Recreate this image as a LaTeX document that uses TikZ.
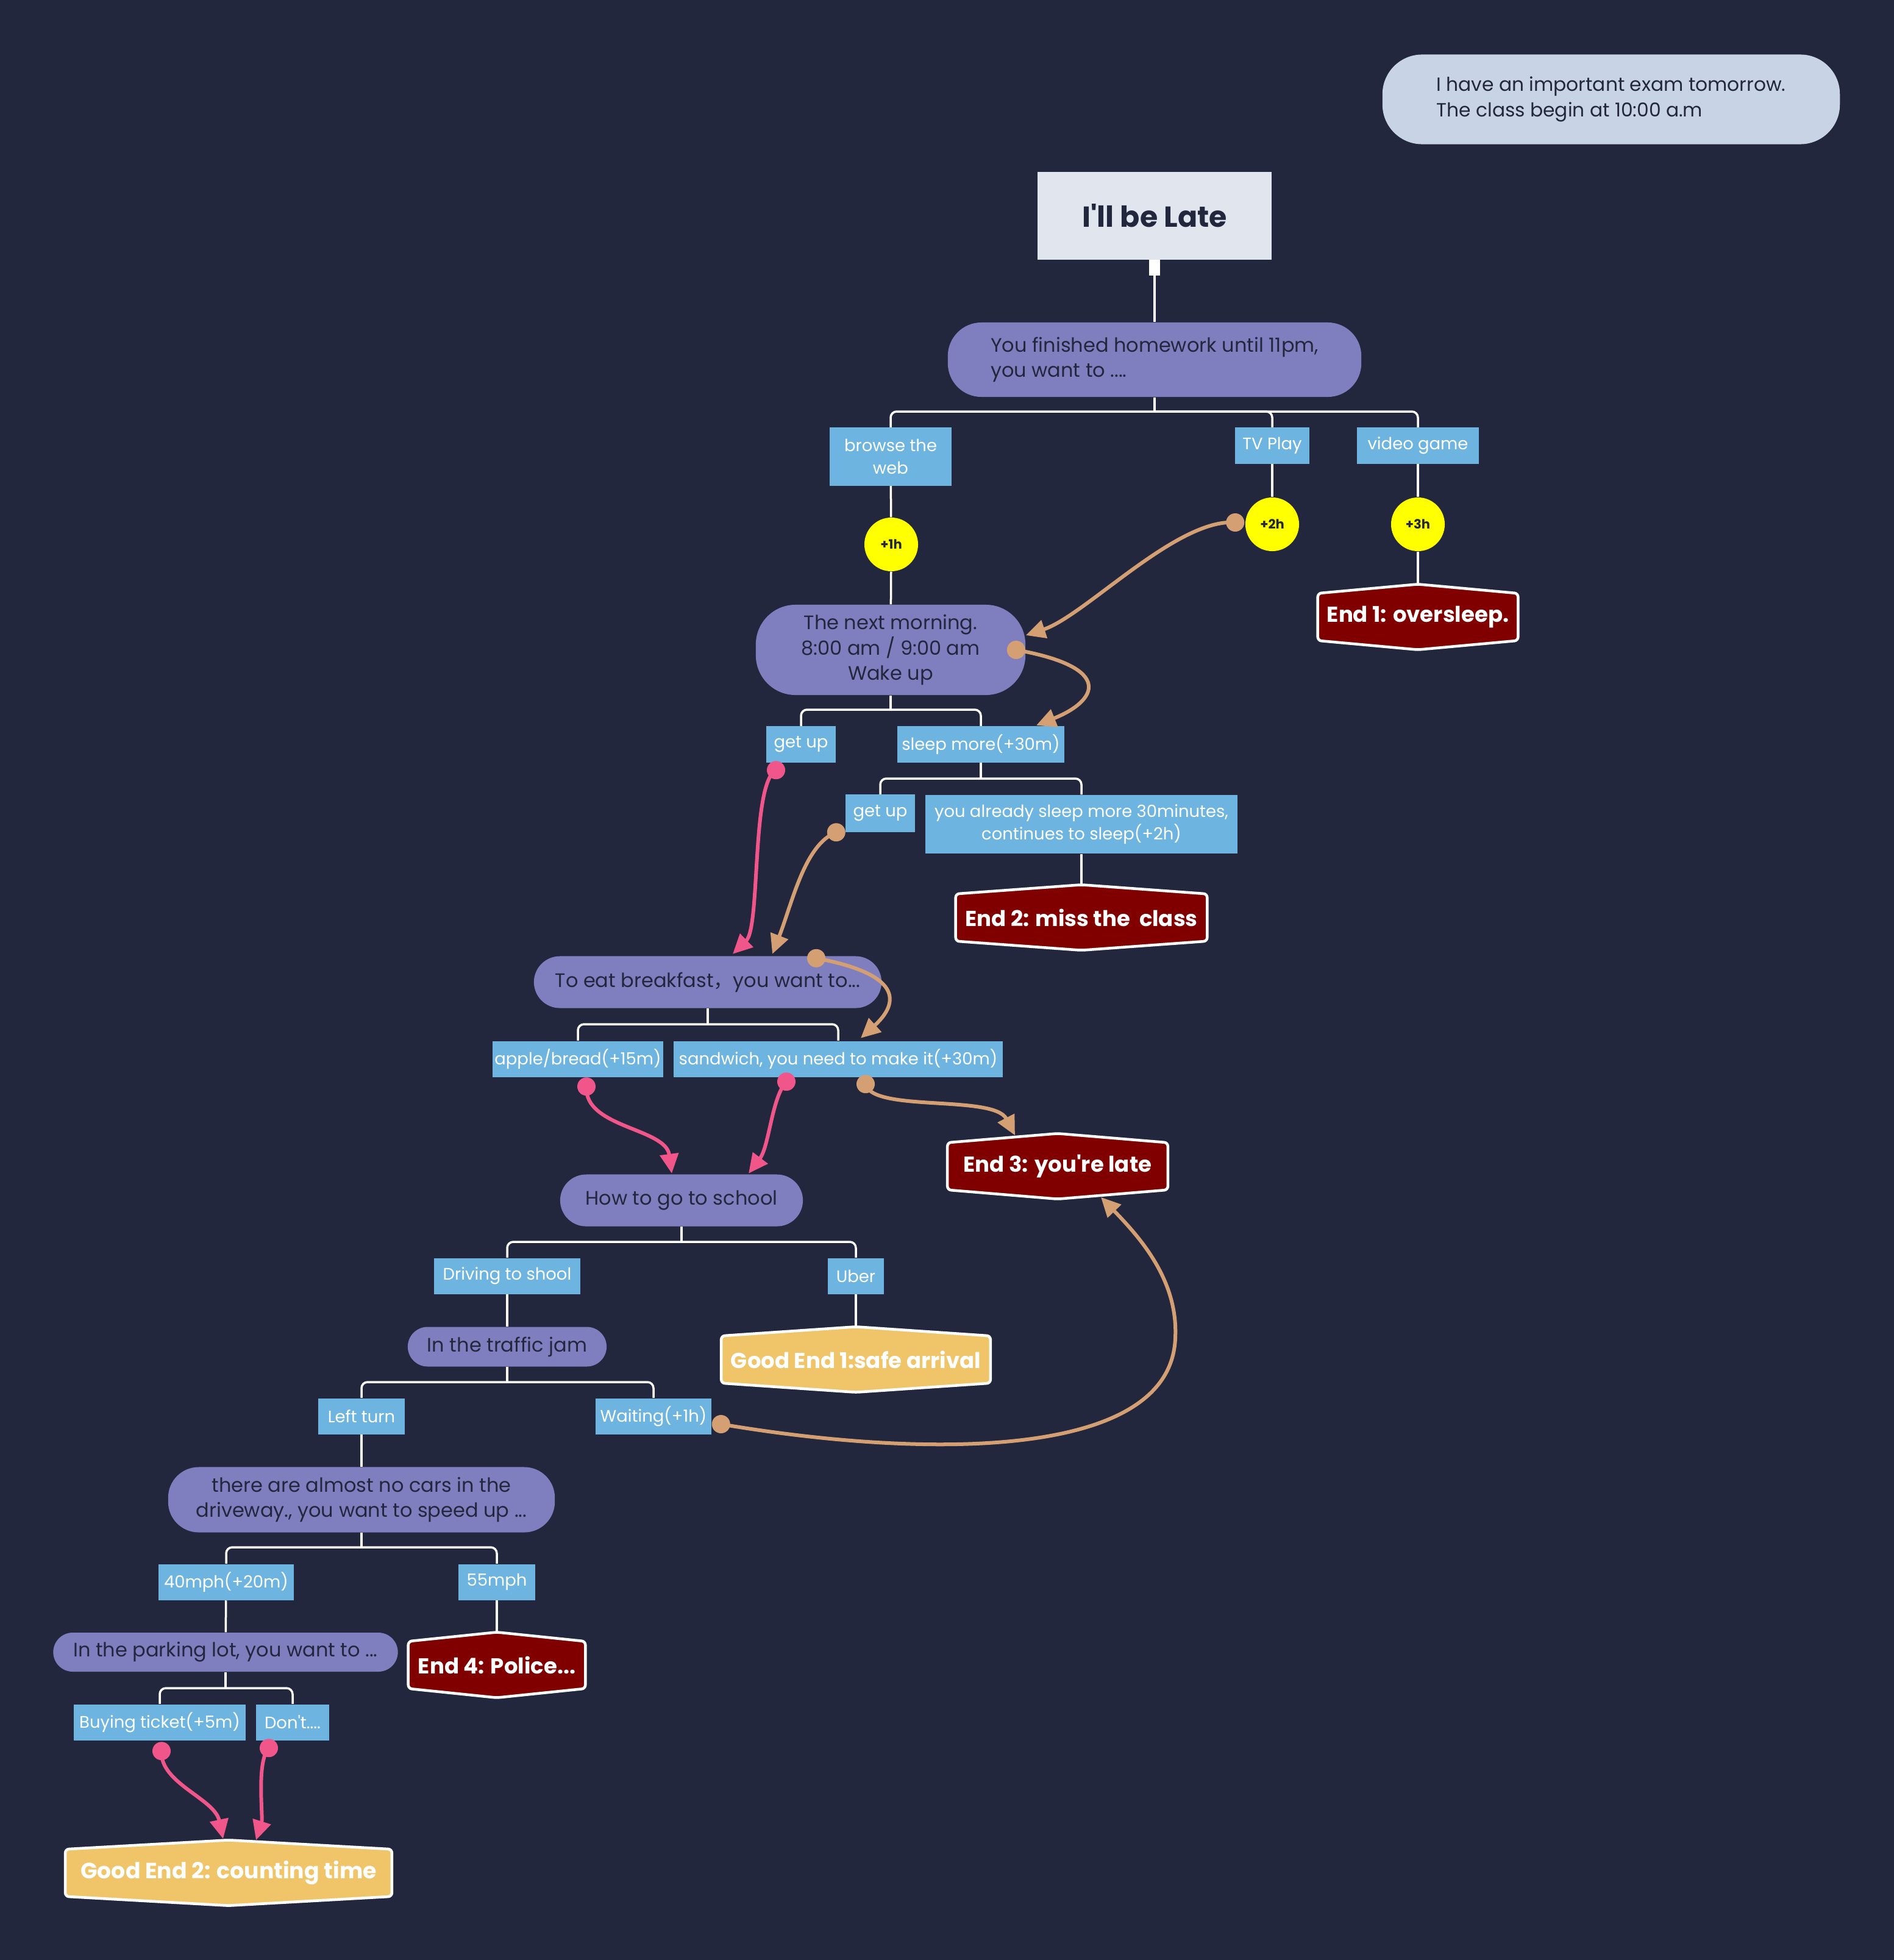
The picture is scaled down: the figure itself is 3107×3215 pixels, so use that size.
\documentclass[tikz,border=0pt]{standalone}
\usepackage{fontspec}
\setmainfont{Poppins}
\newfontfamily\cjk{Noto Sans CJK SC}
\usetikzlibrary{arrows.meta,calc}
\pgfdeclarelayer{bgl}
\pgfdeclarelayer{hexl}
\pgfsetlayers{bgl,hexl,main}
\definecolor{bgc}{HTML}{22273D}
\definecolor{optblue}{HTML}{6DB4E0}
\definecolor{sitpurple}{HTML}{7F7FBF}
\definecolor{navy}{HTML}{22273D}
\definecolor{endred}{HTML}{800000}
\definecolor{goodyel}{HTML}{F0C56A}
\definecolor{notec}{HTML}{C8D3E6}
\definecolor{titlec}{HTML}{E1E5EE}
\definecolor{ocol}{HTML}{D4A073}
\definecolor{pcol}{HTML}{F0568A}
\definecolor{yel}{HTML}{FFFF00}
\newcommand\optfont{\fontsize{7.8}{10.4}\selectfont}
\newcommand\sitfont{\fontsize{9.1}{11.8}\selectfont}
\newcommand\exfont{\fontsize{10.1}{12}\selectfont\bfseries}
\newcommand\tmfont{\fontsize{6}{7}\selectfont\bfseries}
\newcommand\hexbox[2]{%
  \begin{pgfonlayer}{hexl}
  \filldraw[fill=#2, draw=white, line width=0.045cm, rounded corners=0.06cm]
    (#1.north west) -- ($(#1.north)+(0,-15)$) -- (#1.north east) --
    (#1.south east) -- ($(#1.south)+(0,15)$) -- (#1.south west) -- cycle;
  \end{pgfonlayer}
  \coordinate (#1-top) at ($(#1.north)+(0,-15)$);
  \coordinate (#1-bot) at ($(#1.south)+(0,15)$);}
\begin{document}
\begin{tikzpicture}[x=0.01cm,y=-0.01cm,
  opt/.style={fill=optblue, text=white, font=\optfont, inner sep=0pt, minimum height=0.59cm, align=center},
  sit/.style={fill=sitpurple, text=navy, font=\sitfont, inner sep=0pt, align=center},
  endn/.style={text=white, font=\exfont, inner sep=0pt, minimum height=0.76cm},
  timec/.style={circle, fill=yel, text=navy, font=\tmfont, minimum size=0.88cm, inner sep=0pt},
  treeline/.style={draw=white, line width=0.035cm, rounded corners=0.1cm},
  oconn/.style={draw=ocol, line width=0.06cm, -{Triangle[length=0.32cm,width=0.3cm]}},
  pconn/.style={draw=pcol, line width=0.06cm, -{Triangle[length=0.32cm,width=0.3cm]}},
  odot/.style={fill=ocol},
  pdot/.style={fill=pcol}]
\useasboundingbox (0,0) rectangle (3107,3215);
\begin{pgfonlayer}{bgl}
\fill[bgc] (0,0) rectangle (3107,3215);
\end{pgfonlayer}

% note and title
\node[fill=notec, text=navy, font=\fontsize{8.9}{12}\selectfont, rounded corners=0.65cm,
      minimum width=7.5cm, minimum height=1.47cm, inner sep=0pt, align=left] (note) at (2643,163)
  {I have an important exam tomorrow.\\The class begin at 10:00 a.m};
\node[fill=titlec, text=navy, font=\fontsize{13.5}{16}\selectfont\bfseries,
      minimum width=3.84cm, minimum height=1.43cm, inner sep=0pt] (title) at (1894,354) {I\textquotesingle ll be Late};

% level 1
\node[sit, minimum width=6.78cm, minimum height=1.22cm, rounded corners=0.55cm, align=left] (youfin) at (1894,590)
  {You finished homework until 11pm,\\you want to ....};
\node[opt, minimum width=1.99cm, minimum height=0.95cm] (browse) at (1461,749) {browse the\\web};
\node[opt, minimum width=1.22cm] (tvplay) at (2087,731) {TV Play};
\node[opt, minimum width=1.99cm] (video) at (2326,731) {video game};
\node[timec] (t1) at (1462,893) {+1h};
\node[timec] (t2) at (2087,860) {+2h};
\node[timec] (t3) at (2326,860) {+3h};
\node[endn, minimum width=3.27cm] (end1) at (2326,1012) {End 1: oversleep.};
\hexbox{end1}{endred}

% next morning
\node[sit, minimum width=4.42cm, minimum height=1.48cm, rounded corners=0.65cm] (nm) at (1461,1066)
  {The next morning.\\8:00 am / 9:00 am\\Wake up};
\node[opt, minimum width=1.13cm] (getup1) at (1314,1221) {get up};
\node[opt, minimum width=2.74cm] (sleep) at (1609,1221) {sleep more(+30m)};
\node[opt, minimum width=1.13cm, minimum height=0.61cm] (getup2) at (1444,1334) {get up};
\node[opt, minimum width=5.12cm, minimum height=0.96cm] (already) at (1774,1352)
  {you already sleep more 30minutes,\\continues to sleep(+2h)};
\node[endn, minimum width=4.11cm] (end2) at (1774,1505) {End 2: miss the~ class};
\hexbox{end2}{endred}

% breakfast
\node[sit, minimum width=5.70cm, minimum height=0.85cm, rounded corners=0.425cm] (bf) at (1161,1611)
  {To eat breakfast{\cjk ，}you want to...};
\node[opt, minimum width=2.80cm] (apple) at (948,1737) {apple/bread(+15m)};
\node[opt, minimum width=5.40cm] (sandw) at (1375,1737) {sandwich, you need to make it(+30m)};
\node[endn, minimum width=3.60cm] (end3) at (1735,1913) {End 3: you\textquotesingle re late};
\hexbox{end3}{endred}

% how to go
\node[sit, minimum width=3.98cm, minimum height=0.85cm, rounded corners=0.425cm] (howto) at (1118,1969)
  {How to go to school};
\node[opt, minimum width=2.39cm] (drive) at (832,2093) {Driving to shool};
\node[opt, minimum width=0.92cm] (uber) at (1404,2093) {Uber};
\node[endn, minimum width=4.40cm] (good1) at (1404,2230) {Good End 1:safe arrival};
\hexbox{good1}{goodyel}
\node[sit, minimum width=3.26cm, minimum height=0.65cm, rounded corners=0.325cm] (jam) at (832,2209)
  {In the traffic jam};
\node[opt, minimum width=1.42cm] (left) at (593,2323) {Left turn};
\node[opt, minimum width=1.90cm] (wait) at (1072,2323) {Waiting(+1h)};
\node[sit, minimum width=6.34cm, minimum height=1.07cm, rounded corners=0.5cm] (almost) at (593,2460)
  {there are almost no cars in the\\driveway., you want to speed up ...};
\node[opt, minimum width=2.22cm] (mph40) at (371,2595) {40mph(+20m)};
\node[opt, minimum width=1.25cm] (mph55) at (815,2595) {55mph};
\node[sit, minimum width=5.65cm, minimum height=0.64cm, rounded corners=0.32cm] (park) at (370,2710)
  {In the parking lot, you want to ...};
\node[endn, minimum width=2.89cm] (end4) at (815,2731) {End 4: Police...};
\hexbox{end4}{endred}
\node[opt, minimum width=2.82cm] (buy) at (262,2825) {Buying ticket(+5m)};
\node[opt, minimum width=1.20cm] (dont) at (480,2825) {Don\textquotesingle t....};
\node[endn, minimum width=5.34cm, font=\fontsize{10.3}{12}\selectfont\bfseries] (good2) at (375,3072) {Good End 2: counting time};
\hexbox{good2}{goodyel}

% tree lines
\fill[white] ($(title.south)+(-9,0)$) rectangle ($(title.south)+(9,26)$);
\draw[treeline] (title) -- (youfin);
\coordinate (b1) at (1894,675);
\draw[treeline] (youfin) -- (b1);
\draw[treeline] (b1) -| (browse);
\draw[treeline] (b1) -| (tvplay);
\draw[treeline] (b1) -| (video);
\draw[treeline] (browse) -- (t1);
\draw[treeline] (t1) -- (nm);
\draw[treeline] (tvplay) -- (t2);
\draw[treeline] (video) -- (t3);
\draw[treeline] (t3) -- (end1-top);
\coordinate (b2) at (1461,1164);
\draw[treeline] (nm) -- (b2);
\draw[treeline] (b2) -| (getup1);
\draw[treeline] (b2) -| (sleep);
\coordinate (b3) at (1609,1277);
\draw[treeline] (sleep) -- (b3);
\draw[treeline] (b3) -| (getup2);
\draw[treeline] (b3) -| (already);
\draw[treeline] (already) -- (end2-top);
\coordinate (b4) at (1161,1680);
\draw[treeline] (bf) -- (b4);
\draw[treeline] (b4) -| (apple);
\draw[treeline] (b4) -| (sandw);
\coordinate (b5) at (1118,2037);
\draw[treeline] (howto) -- (b5);
\draw[treeline] (b5) -| (drive);
\draw[treeline] (b5) -| (uber);
\draw[treeline] (uber) -- (good1-top);
\draw[treeline] (drive) -- (jam);
\coordinate (b6) at (832,2267);
\draw[treeline] (jam) -- (b6);
\draw[treeline] (b6) -| (left);
\draw[treeline] (b6) -| (wait);
\draw[treeline] (left) -- (almost);
\coordinate (b7) at (593,2538);
\draw[treeline] (almost) -- (b7);
\draw[treeline] (b7) -| (mph40);
\draw[treeline] (b7) -| (mph55);
\draw[treeline] (mph40) -- (park);
\draw[treeline] (mph55) -- (end4-top);
\coordinate (b8) at (370,2769);
\draw[treeline] (park) -- (b8);
\draw[treeline] (b8) -| (buy);
\draw[treeline] (b8) -| (dont);

% connector anchors
\coordinate (s1) at ($(t2.west)+(-16,-3)$);
\coordinate (e1) at ($(nm.east)+(0,-24)$);
\coordinate (s2) at ($(nm.east)+(-16,0)$);
\coordinate (e2) at ($(sleep.north)+(91,-1)$);
\coordinate (s3) at ($(getup2.south west)+(-15,0)$);
\coordinate (e3) at ($(bf.north)+(106,-3)$);
\coordinate (s4) at ($(getup1.south)+(-41,12)$);
\coordinate (e4) at ($(bf.north)+(41,-3)$);
\coordinate (s5) at ($(bf.north)+(178,4)$);
\coordinate (e5) at ($(sandw.north)+(37,-4)$);
\coordinate (s6) at ($(apple.south)+(14,15)$);
\coordinate (e6) at ($(howto.north)+(-16,-1)$);
\coordinate (s7) at ($(sandw.south)+(-85,7)$);
\coordinate (e7) at ($(howto.north)+(110,-1)$);
\coordinate (s8) at ($(sandw.south)+(45,11)$);
\coordinate (e8) at ($(end3-top)+(-70,3)$);
\coordinate (s9) at ($(wait.east)+(15,13)$);
\coordinate (e9) at ($(end3-bot)+(71,-3)$);
\coordinate (s10) at ($(buy.south)+(3,17)$);
\coordinate (e10) at ($(good2-top)+(-9,-2)$);
\coordinate (s11) at ($(dont.south)+(-39,12)$);
\coordinate (e11) at ($(good2-top)+(45,0)$);

% connectors
\draw[oconn] (s1) .. controls (1930,850) and (1780,1010) .. (e1);
\draw[oconn] (s2) .. controls (1830,1095) and (1800,1150) .. (e2);
\draw[oconn] (s3) .. controls (1320,1385) and (1300,1480) .. (e3);
\draw[pconn] (s4) .. controls (1232,1285) and (1248,1520) .. (e4);
\draw[oconn] (s5) .. controls (1490,1600) and (1470,1650) .. (e5);
\draw[pconn] (s6) .. controls (958,1850) and (1092,1850) .. (e6);
\draw[pconn] (s7) .. controls (1266,1800) and (1262,1880) .. (e7);
\draw[oconn] (s8) .. controls (1430,1825) and (1630,1795) .. (e8);
\draw[oconn] (s9) .. controls (1500,2390) and (1920,2400) .. (1928,2195)
               .. controls (1933,2100) and (1870,2030) .. (e9);
\draw[pconn] (s10) .. controls (262,2925) and (352,2950) .. (e10);
\draw[pconn] (s11) .. controls (420,2890) and (432,2980) .. (e11);
\foreach \p in {s1,s2,s3,s5,s8,s9} \fill[odot] (\p) circle (0.15cm);
\foreach \p in {s4,s6,s7,s10,s11} \fill[pdot] (\p) circle (0.15cm);
\end{tikzpicture}
\end{document}
